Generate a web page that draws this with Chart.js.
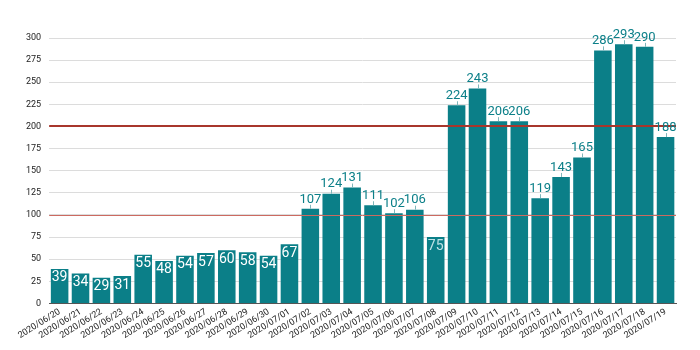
<!DOCTYPE html>
<html><head><meta charset="utf-8">
<script src="https://cdn.jsdelivr.net/npm/chart.js@4"></script>
<style>html,body{margin:0;padding:0;background:#fff}#w{width:700px;height:350px}</style>
</head><body><div id="w"><canvas id="c" width="700" height="350"></canvas></div>
<script>
const categories = ["2020/06/20","2020/06/21","2020/06/22","2020/06/23","2020/06/24","2020/06/25","2020/06/26","2020/06/27","2020/06/28","2020/06/29","2020/06/30","2020/07/01","2020/07/02","2020/07/03","2020/07/04","2020/07/05","2020/07/06","2020/07/07","2020/07/08","2020/07/09","2020/07/10","2020/07/11","2020/07/12","2020/07/13","2020/07/14","2020/07/15","2020/07/16","2020/07/17","2020/07/18","2020/07/19"];
const cases = [39,34,29,31,55,48,54,57,60,58,54,67,107,124,131,111,102,106,75,224,243,206,206,119,143,165,286,293,290,188];
const yTicks = [0,25,50,75,100,125,150,175,200,225,250,275,300];
const thresholds = [100,200];
const thresholdColors = ["#cc6a60","#a8362c"];
const thresholdWidths = [1,2];
const insideLimit = 100;

const TEAL = "#0b7f88";
const labelPlugin = {
  id:"lbl",
  afterDatasetsDraw(chart){
    const ctx = chart.ctx;
    const meta = chart.getDatasetMeta(0);
    const ys = chart.scales.y;
    ctx.save();
    thresholds.forEach((t,i)=>{
      const w = thresholdWidths[i];
      const y = Math.round(ys.getPixelForValue(t)) + (w % 2 ? 0.5 : 0);
      ctx.strokeStyle = thresholdColors[i];
      ctx.lineWidth = w;
      ctx.beginPath();
      ctx.moveTo(chart.chartArea.left,y);
      ctx.lineTo(chart.chartArea.right,y);
      ctx.stroke();
    });
    ctx.textAlign = "center";
    meta.data.forEach((bar,i)=>{
      const v = cases[i];
      if (v < insideLimit){
        ctx.font = "14px Roboto";
        ctx.fillStyle = v===75 ? "#bfe3e6" : "#ffffff";
        ctx.textBaseline = "top";
        ctx.fillText(String(v), bar.x, bar.y+2);
      } else {
        ctx.strokeStyle = "#7fb6ba";
        ctx.lineWidth = 1;
        ctx.beginPath();
        ctx.moveTo(Math.round(bar.x)+0.5, bar.y);
        ctx.lineTo(Math.round(bar.x)+0.5, bar.y-4);
        ctx.stroke();
        ctx.font = "13px Roboto";
        ctx.fillStyle = TEAL;
        ctx.textBaseline = "bottom";
        ctx.fillText(String(v), bar.x, bar.y-3);
      }
    });
    ctx.restore();
  }
};

new Chart(document.getElementById("c"),{
  type:"bar",
  data:{labels:categories,datasets:[{data:cases,backgroundColor:TEAL,barPercentage:0.84,categoryPercentage:1.0}]},
  options:{
    responsive:false,animation:false,
    layout:{padding:{left:18,right:24,top:38,bottom:6}},
    plugins:{legend:{display:false},tooltip:{enabled:false}},
    scales:{
      x:{
        grid:{display:false,drawTicks:false},
        border:{display:true,color:"#555",width:1},
        ticks:{color:"#222",font:{family:"Roboto",size:9},minRotation:32,maxRotation:32,padding:3,autoSkip:false}
      },
      y:{
        min:0,max:300,
        afterBuildTicks(axis){axis.ticks = yTicks.map(v=>({value:v}));},
        grid:{color:"#dcdcdc",drawTicks:false},
        border:{display:false},
        ticks:{color:"#222",font:{family:"Roboto",size:9},padding:8}
      }
    }
  },
  plugins:[labelPlugin]
});
</script></body></html>
